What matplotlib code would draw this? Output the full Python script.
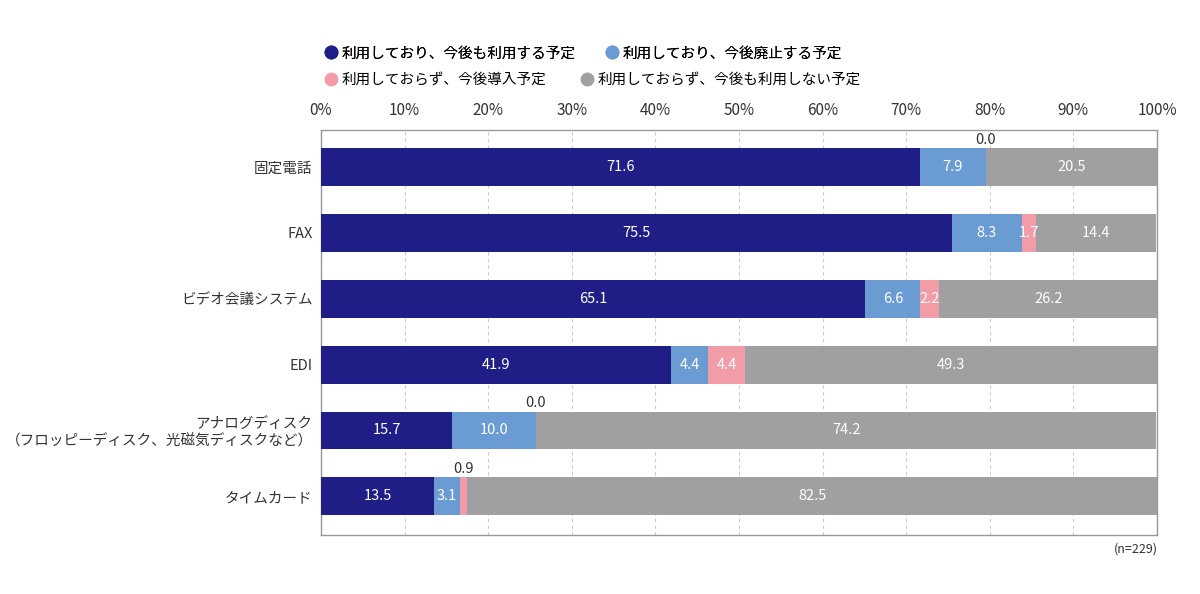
import numpy as np
import matplotlib
matplotlib.use("Agg")
from matplotlib import pyplot as plt
from matplotlib.lines import Line2D

plt.rcParams['font.family'] = ['Noto Sans CJK JP', 'DejaVu Sans']

categories = ['固定電話', 'FAX', 'ビデオ会議システム', 'EDI',
              'アナログディスク\n（フロッピーディスク、光磁気ディスクなど）', 'タイムカード']
use_continue = [71.6, 75.5, 65.1, 41.9, 15.7, 13.5]
use_stop = [7.9, 8.3, 6.6, 4.4, 10.0, 3.1]
new_intro = [0.0, 1.7, 2.2, 4.4, 0.0, 0.9]
no_use = [20.5, 14.4, 26.2, 49.3, 74.2, 82.5]
series_names = ['利用しており、今後も利用する予定', '利用しており、今後廃止する予定',
                '利用しておらず、今後導入予定', '利用しておらず、今後も利用しない予定']
colors = ['#1e1e86', '#6b9bd3', '#f29ca7', '#a09fa1']

data = [use_continue, use_stop, new_intro, no_use]

fig = plt.figure(figsize=(12, 5.94), dpi=100)
ax = fig.add_axes([0.2675, 0.099, 0.6967, 0.682])

y = np.arange(len(categories))
left = np.zeros(len(categories))
for vals, col in zip(data, colors):
    vals = np.array(vals)
    ax.barh(y, vals, left=left, height=0.575, color=col, edgecolor='none', zorder=3)
    for i, v in enumerate(vals):
        cx = left[i] + v / 2
        if v < 1.0:
            # small values go above the bar
            ax.text(cx, y[i] - 0.31, f'{v:.1f}', ha='center', va='bottom',
                    fontsize=10.5, color='#333333', zorder=4)
        else:
            ax.text(cx, y[i], f'{v:.1f}', ha='center', va='center',
                    fontsize=10.5, color='white', zorder=4)
    left += vals

ax.set_xlim(0, 100)
ax.set_ylim(len(categories) - 0.41, -0.56)
ax.set_xticks(np.arange(0, 101, 10))
ax.set_xticklabels([f'{t}%' for t in range(0, 101, 10)], fontsize=11, color='#333333')
ax.xaxis.tick_top()
ax.tick_params(axis='x', length=0, pad=8)
ax.set_yticks(y)
ax.set_yticklabels(categories, fontsize=10.5, color='#333333', ha='right')
ax.tick_params(axis='y', length=0, pad=6)
ax.grid(axis='x', color='#cccccc', linestyle=(0, (3, 3)), linewidth=0.8, zorder=0)
for s in ax.spines.values():
    s.set_color('#999999')
    s.set_linewidth(1)

def handle(c):
    return Line2D([], [], marker='o', linestyle='none', markersize=10,
                  markerfacecolor=c, markeredgecolor='none')

leg1 = fig.legend([handle(colors[0]), handle(colors[1])], series_names[:2], ncol=2,
                  loc='center left', bbox_to_anchor=(0.258, 0.91), frameon=False,
                  fontsize=10.5, handletextpad=0.1, columnspacing=1.9, handlelength=1.2)
leg2 = fig.legend([handle(colors[2]), handle(colors[3])], series_names[2:], ncol=2,
                  loc='center left', bbox_to_anchor=(0.258, 0.865), frameon=False,
                  fontsize=10.5, handletextpad=0.1, columnspacing=2.2, handlelength=1.2)
fig.add_artist(leg1)

fig.text(0.965, 0.076, '(n=229)', ha='right', va='center', fontsize=9, color='#333333')

fig.savefig('out.png', dpi=100, facecolor='white')
